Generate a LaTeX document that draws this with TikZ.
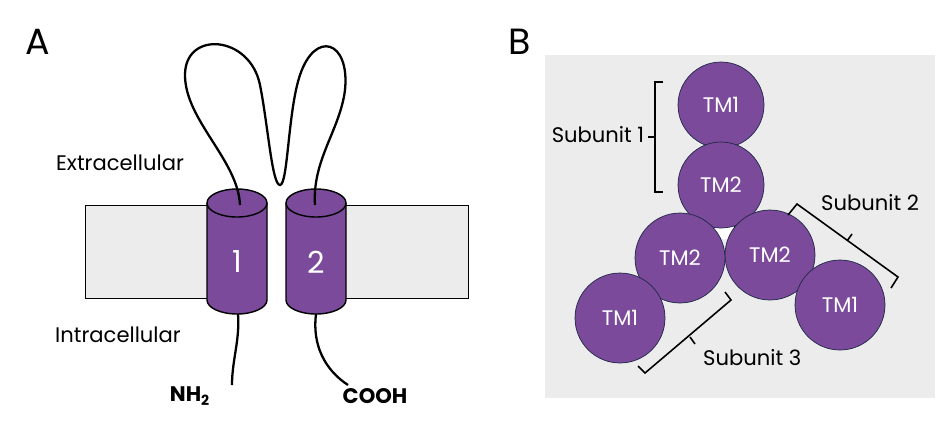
\documentclass[tikz,border=0pt]{standalone}
\usepackage{fontspec}
\setmainfont{Poppins}
\definecolor{tmpurple}{RGB}{123,74,154}
\definecolor{memgray}{RGB}{236,236,236}
\definecolor{tmedge}{RGB}{30,40,70}
\tikzset{
  mem/.style={draw=black,fill=memgray},
  helix/.style={draw=black,fill=tmpurple,thick},
  tm/.style={circle,draw=tmedge,fill=tmpurple,minimum size=1.8cm,text=white,font=\large,inner sep=0pt},
  chain/.style={line width=1.3pt},
  lbl/.style={font=\large},
  brc/.style={line width=0.9pt}
}
\begin{document}
\begin{tikzpicture}[x=0.02cm,y=-0.02cm]
\useasboundingbox (0,0) rectangle (940,424);
% panel A
\node[font=\huge] (A) at (38,42) {A};
\draw[mem] (85,205) rectangle (215,298);
\draw[mem] (340,205) rectangle (468,298);
\foreach\x/\n in {237/1,316/2} {
  \draw[helix] (\x-30,203) -- (\x-30,300) arc[start angle=180,end angle=0,x radius=30,y radius=14] -- (\x+30,203);
  \draw[helix] (\x,203) ellipse[x radius=30,y radius=14];
  \node[text=white,font=\LARGE] (h\n) at (\x,262) {\n};
}
\draw[chain] (240,205) .. controls (238,160) and (185,120) .. (185,75)
  .. controls (185,30) and (250,35) .. (260,85)
  .. controls (268,125) and (272,185) .. (280,185)
  .. controls (288,185) and (288,110) .. (300,75)
  .. controls (315,30) and (350,40) .. (345,90)
  .. controls (340,130) and (312,160) .. (315,205);
\draw[chain] (238,314) .. controls (240,340) and (232,360) .. (232,385);
\draw[chain] (316,314) .. controls (312,345) and (325,370) .. (348,385);
\node[lbl] (ext) at (120,163) {Extracellular};
\node[lbl] (int) at (118,335) {Intracellular};
\node[font=\bfseries\large] (nh) at (190,396) {NH\textsubscript{2}};
\node[font=\bfseries\large] (co) at (375,396) {COOH};
% panel B
\node[font=\huge] (B) at (520,42) {B};
\fill[memgray] (545,55) rectangle (935,398);
\fill[white] (721,200) -- (690,240) -- (762,238) -- cycle;
\draw[dashed,thin] (705,215) -- (712,240) (738,215) -- (730,242) (722,256) -- (728,256);
\node[tm,minimum size=1.72cm] (a1) at (721,105) {TM1};
\node[tm,minimum size=1.72cm] (a2) at (721,185) {TM2};
\node[tm] (b2) at (770,255) {TM2};
\node[tm] (b1) at (840,305) {TM1};
\node[tm] (c2) at (680,258) {TM2};
\node[tm] (c1) at (620,318) {TM1};
\draw[brc] (663,82) -- (655,82) -- (655,192) -- (663,192) (655,137) -- (648,137);
\node[lbl] (s1) at (598,135) {Subunit 1};
\draw[brc] (788,215) -- (797,204) -- (898,277) -- (891,288) (847,241) -- (852,234);
\node[lbl,anchor=west] (s2) at (815,203) {Subunit 2};
\draw[brc] (725,292) -- (731,300) -- (645,373) -- (638,366) (690,337) -- (695,344);
\node[lbl,anchor=west] (s3) at (697,358) {Subunit 3};
\end{tikzpicture}
\end{document}
